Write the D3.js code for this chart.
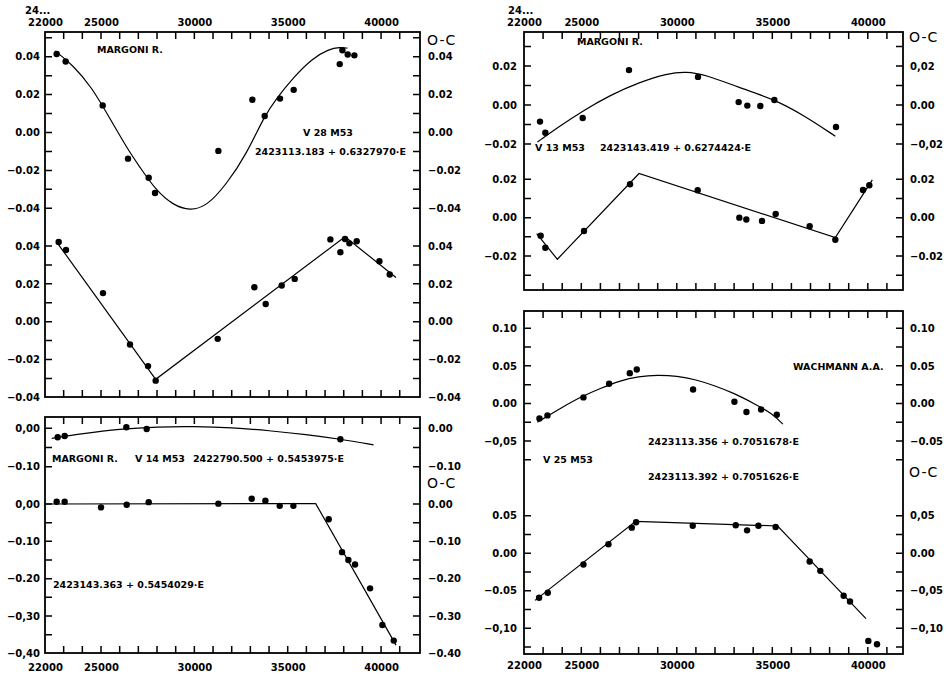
<!DOCTYPE html>
<html>
<head>
<meta charset="utf-8">
<script src="https://cdn.jsdelivr.net/npm/d3@7"></script>
<style>
  body { margin: 0; background: #fff; }
  text { font-family: "DejaVu Sans", sans-serif; }
</style>
</head>
<body>
<div id="chart"></div>
<script>
// JD - 2400000 on the x axis, O-C in days on the y axes
var xTickLabels = [22000, 25000, 30000, 35000, 40000];

// V 28 M53
var v28Upper = [[22625,0.0414],[23107,0.0375],[25089,0.0143],[26446,-0.0138],[27554,-0.0239],[27893,-0.0319],
  [31286,-0.0097],[33107,0.0173],[33768,0.0087],[34589,0.0179],[35321,0.0225],[37786,0.0361],[37929,0.0434],
  [38214,0.0412],[38571,0.0407]];
var v28UpperFit = [[22550,0.0430],[23500,0.0355],[24500,0.0240],[25500,0.0070],[26500,-0.0100],[27100,-0.0185],
  [27900,-0.0300],[28870,-0.0385],[29770,-0.0412],[30660,-0.0390],[31730,-0.0272],[32800,-0.0113],[33750,0.0087],
  [34400,0.0180],[35300,0.0290],[36300,0.0390],[37200,0.0440],[37800,0.0450],[38200,0.0445]];
var v28Lower = [[22732,0.0421],[23125,0.0379],[25107,0.0151],[26554,-0.0121],[27518,-0.0235],[27929,-0.0312],
  [31250,-0.0091],[33214,0.0182],[33821,0.0093],[34679,0.0191],[35375,0.0226],[37286,0.0435],[37821,0.0367],
  [38071,0.0437],[38304,0.0414],[38696,0.0425],[39911,0.0319],[40464,0.0249]];
var v28LowerFit = [[22625,0.0421],[27929,-0.0305],[38071,0.0449],[40800,0.0233]];

// V 14 M53
var v14Upper = [[22679,-0.0235],[23054,-0.0200],[26357,0.0026],[27446,-0.0017],[37821,-0.0287]];
var v14UpperFit = [[22360,-0.026],[24000,-0.014],[26000,-0.002],[28000,0.004],[30000,0.005],[32000,0.002],
  [34000,-0.006],[36000,-0.016],[37800,-0.028],[39600,-0.043]];
var v14Lower = [[22625,0.006],[23054,0.006],[25000,-0.009],[26375,-0.002],[27554,0.005],[31286,0.001],
  [33071,0.014],[33804,0.009],[34571,-0.005],[35304,-0.005],[37196,-0.041],[37911,-0.129],[38250,-0.150],
  [38607,-0.162],[39411,-0.226],[40071,-0.324],[40679,-0.366]];
var v14LowerFit = [[22000,0.000],[36500,0.001],[40800,-0.378]];

// V 13 M53
var v13Upper = [[22838,-0.0085],[23117,-0.0142],[25072,-0.0067],[27497,0.0179],[31110,0.0144],[33239,0.0015],
  [33693,-0.0003],[34374,-0.0005],[35107,0.0026],[38335,-0.0113]];
var v13UpperFit = [[22700,-0.0190],[24000,-0.0100],[25000,-0.0035],[26500,0.0050],[28000,0.0115],[29500,0.0162],
  [30500,0.0172],[31500,0.0155],[33200,0.0092],[35100,0.0029],[36600,-0.0050],[38300,-0.0160]];
var v13Lower = [[22873,-0.0094],[23117,-0.0157],[25141,-0.0070],[27550,0.0174],[31093,0.0143],[33274,0.0000],
  [33640,-0.0010],[34461,-0.0017],[35176,0.0019],[36956,-0.0045],[38300,-0.0115],[39750,0.0144],[40080,0.0169]];
var v13LowerFit = [[22663,-0.0083],[23745,-0.0217],[28021,0.0230],[38300,-0.0104],[40237,0.0197]];

// V 25 M53
var v25Upper = [[22808,-0.0199],[23227,-0.0159],[25112,0.0080],[26456,0.0261],[27538,0.0403],[27904,0.0451],
  [30853,0.0186],[33017,0.0022],[33646,-0.0115],[34414,-0.0080],[35234,-0.0150]];
var v25UpperFit = [[22700,-0.0250],[24000,-0.0050],[25000,0.0090],[26000,0.0200],[27000,0.0300],[28000,0.0360],
  [29000,0.0378],[30000,0.0365],[31000,0.0318],[32000,0.0235],[33000,0.0135],[34000,0.0005],[35000,-0.0135],
  [35550,-0.0275]];
var v25Lower = [[22791,-0.0593],[23245,-0.0527],[25112,-0.0150],[26421,0.0119],[27642,0.0341],[27869,0.0412],
  [30834,0.0367],[33086,0.0372],[33679,0.0305],[34272,0.0367],[35176,0.0350],[36956,-0.0111],[37515,-0.0235],
  [38736,-0.0566],[39068,-0.0642],[40028,-0.1168],[40482,-0.1212]];
var v25LowerFit = [[22576,-0.0628],[27846,0.0425],[35281,0.0363],[39906,-0.0872]];

// tick labels (as printed, with their mixed decimal marks)
var l1Ticks = [0.04, 0.02, 0, -0.02, -0.04];
var l1Left = ["0.04","0.02","0.00","−0.02","−0.04"];
var l1Right = ["0.04","0.02","0.00","−0.02","−0.04"];
var l3Ticks = [0, -0.1];
var l3Left = ["0,00","−0.10"];
var l3Right = ["0.00","−0.10"];
var l4Ticks = [0, -0.1, -0.2, -0.3, -0.4];
var l4Left = ["0,00","−0.10","−0.20","−0,30","−0,40"];
var l4Right = ["0.00","−0.10","−0.20","−0.30","−0.40"];
var r1Ticks = [0.02, 0, -0.02];
var r1Left = ["0.02","0.00","−0.02"];
var r1Right = ["0,02","0.00","−0,02"];
var r2Right = ["0.02","0.00","−0.02"];
var r3Ticks = [0.10, 0.05, 0, -0.05];
var r3Left = ["0.10","0.05","0.00","−0,05"];
var r3Right = ["0.10","0.05","0.00","−0.05"];
var r4Ticks = [0.05, 0, -0.05, -0.10];
var r4Left = ["0.05","0.00","−0.05","−0,10"];
var r4Right = ["0,05","0.00","−0,05","−0,10"];

var width = 947, height = 675;
var svg = d3.select("#chart").append("svg")
    .attr("width", width)
    .attr("height", height);

var xLeft = d3.scaleLinear().domain([22000, 42000]).range([45, 418.4]);
var xRight = d3.scaleLinear().domain([22000, 42000]).range([524, 906]);

var frames = [
  {x: xLeft, left: 45, right: 420, top: 32, bottom: 397, labels: "top", pad: 6.5},
  {x: xLeft, left: 45, right: 420, top: 417, bottom: 653, labels: "bottom", pad: 10.5},
  {x: xRight, left: 524, right: 903, top: 32, bottom: 290, labels: "top", pad: 6.5},
  {x: xRight, left: 524, right: 903, top: 311, bottom: 654, labels: "bottom", pad: 7.5}
];

var minorX = d3.range(23000, 42000, 1000);
var tickLen = 7;
var tickMarks = [];   // collected as [x1, y1, x2, y2], drawn once at the end

frames.forEach(function(f) {
  svg.append("rect")
      .attr("x", f.left).attr("y", f.top)
      .attr("width", f.right - f.left).attr("height", f.bottom - f.top)
      .attr("fill", "none").attr("stroke", "#000").attr("stroke-width", 1.8);

  // inward ticks every 1000 days on top and bottom edge
  minorX.filter(function(d) { return f.x(d) < f.right - 2; }).forEach(function(d) {
    var px = f.x(d);
    tickMarks.push([px, f.top, px, f.top + tickLen]);
    tickMarks.push([px, f.bottom, px, f.bottom - tickLen]);
  });

  var axisFn = f.labels == "top" ? d3.axisTop : d3.axisBottom;
  var lab = svg.append("g")
      .attr("transform", `translate(0,${f.labels == "top" ? f.top : f.bottom})`)
      .call(axisFn(f.x).tickValues(xTickLabels).tickSize(0).tickPadding(f.pad).tickFormat(d3.format("d")));
  lab.select(".domain").remove();
  lab.selectAll("text")
      .attr("font-family", "DejaVu Sans").attr("font-size", 10).attr("font-weight", "bold").attr("fill", "#000");
});

// one entry per sub plot: y mapping
var plots = [
  {x: xLeft, f: frames[0], dom: [0.04, -0.04], rng: [56.7, 208.3], minor: d3.range(-4, 6).map(function(d){return d/100;}),
   ticks: l1Ticks, lLab: l1Left, rLab: l1Right, lPad: 5, rPad: 8, pts: v28Upper, fit: v28UpperFit, curve: d3.curveBasis},
  {x: xLeft, f: frames[0], dom: [0.04, -0.04], rng: [246, 397.3], minor: d3.range(-3, 5).map(function(d){return d/100;}),
   ticks: l1Ticks, lLab: l1Left, rLab: l1Right, lPad: 5, rPad: 8, pts: v28Lower, fit: v28LowerFit, curve: d3.curveLinear},
  {x: xLeft, f: frames[1], dom: [0, -0.1], rng: [428.3, 466.7], minor: [0, -0.05, -0.1],
   ticks: l3Ticks, lLab: l3Left, rLab: l3Right, lPad: 5, rPad: 8, pts: v14Upper, fit: v14UpperFit, curve: d3.curveBasis},
  {x: xLeft, f: frames[1], dom: [0, -0.4], rng: [504, 653.3], minor: d3.range(-7, 1).map(function(d){return d*0.05;}),
   ticks: l4Ticks, lLab: l4Left, rLab: l4Right, lPad: 5, rPad: 8, pts: v14Lower, fit: v14LowerFit, curve: d3.curveLinear},
  {x: xRight, f: frames[2], dom: [0.02, -0.02], rng: [66, 144], minor: d3.range(-2, 4).map(function(d){return d/100;}),
   ticks: r1Ticks, lLab: r1Left, rLab: r1Right, lPad: 7, rPad: 7, pts: v13Upper, fit: v13UpperFit, curve: d3.curveBasis},
  {x: xRight, f: frames[2], dom: [0.02, -0.02], rng: [179.3, 256], minor: d3.range(-3, 3).map(function(d){return d/100;}),
   ticks: r1Ticks, lLab: r1Left, rLab: r2Right, lPad: 7, rPad: 7, pts: v13Lower, fit: v13LowerFit, curve: d3.curveLinear},
  {x: xRight, f: frames[3], dom: [0.10, -0.05], rng: [328.3, 441], minor: d3.range(-3, 5).map(function(d){return d*0.025;}),
   ticks: r3Ticks, lLab: r3Left, rLab: r3Right, lPad: 7, rPad: 7, pts: v25Upper, fit: v25UpperFit, curve: d3.curveBasis},
  {x: xRight, f: frames[3], dom: [0.05, -0.10], rng: [515.7, 628.3], minor: d3.range(-5, 3).map(function(d){return d*0.025;}),
   ticks: r4Ticks, lLab: r4Left, rLab: r4Right, lPad: 7, rPad: 7, pts: v25Lower, fit: v25LowerFit, curve: d3.curveLinear}
];

plots.forEach(function(p) {
  var y = d3.scaleLinear().domain(p.dom).range(p.rng);

  // inward tick marks on both sides
  p.minor.forEach(function(d) {
    var py = y(d);
    if (py <= p.f.top + 2 || py >= p.f.bottom - 2) return;
    tickMarks.push([p.f.left, py, p.f.left + tickLen, py]);
    tickMarks.push([p.f.right, py, p.f.right - tickLen, py]);
  });

  // printed labels
  var ll = svg.append("g").attr("transform", `translate(${p.f.left},0)`)
      .call(d3.axisLeft(y).tickValues(p.ticks).tickSize(0).tickPadding(p.lPad)
        .tickFormat(function(d, i) { return p.lLab[i]; }));
  var rl = svg.append("g").attr("transform", `translate(${p.f.right},0)`)
      .call(d3.axisRight(y).tickValues(p.ticks).tickSize(0).tickPadding(p.rPad)
        .tickFormat(function(d, i) { return p.rLab[i]; }));
  [ll, rl].forEach(function(g) {
    g.select(".domain").remove();
    g.selectAll("text")
        .attr("font-family", "DejaVu Sans").attr("font-size", 10).attr("font-weight", "bold").attr("fill", "#000");
  });

  var line = d3.line()
      .x(function(d) { return p.x(d[0]); })
      .y(function(d) { return y(d[1]); })
      .curve(p.curve);

  svg.append("path")
      .datum(p.fit)
      .attr("d", line)
      .attr("fill", "none")
      .attr("stroke", "#000")
      .attr("stroke-width", 1.2);

  svg.append("g").selectAll("circle")
      .data(p.pts)
    .enter().append("circle")
      .attr("cx", function(d) { return p.x(d[0]); })
      .attr("cy", function(d) { return y(d[1]); })
      .attr("r", 3.2)
      .attr("fill", "#000");
});

// all frame ticks as one path
svg.append("path")
    .attr("d", tickMarks.map(function(t) { return `M${t[0]},${t[1]}L${t[2]},${t[3]}`; }).join(""))
    .attr("fill", "none")
    .attr("stroke", "#000")
    .attr("stroke-width", 1.5);

// annotations
var notes = [
  ["MARGONI R.", 97, 52.5], ["V 28 M53", 303, 135.5], ["2423113.183 + 0.6327970·E", 255, 154.5],
  ["MARGONI R.", 52, 462], ["V 14  M53", 135, 462], ["2422790.500 + 0.5453975·E", 193, 462],
  ["2423143.363 + 0.5454029·E", 53, 588],
  ["MARGONI R.", 577, 44.5], ["V 13 M53", 535, 151], ["2423143.419 + 0.6274424·E", 600, 151],
  ["WACHMANN A.A.", 793, 369.5], ["2423113.356 + 0.7051678·E", 648, 445], ["V 25 M53", 543, 463],
  ["2423113.392 + 0.7051626·E", 648, 480]
];
svg.append("g").selectAll("text")
    .data(notes)
  .enter().append("text")
    .attr("x", function(d) { return d[1]; })
    .attr("y", function(d) { return d[2]; })
    .attr("font-size", 9.5)
    .attr("font-weight", "bold")
    .text(function(d) { return d[0]; });

var ocLabels = [[427, 45], [427, 488], [909, 42], [909, 477]];
svg.append("g").selectAll("text")
    .data(ocLabels)
  .enter().append("text")
    .attr("x", function(d) { return d[0]; })
    .attr("y", function(d) { return d[1]; })
    .attr("font-size", 14)
    .attr("letter-spacing", 1)
    .text("O-C");

[[25, 14], [508, 14]].forEach(function(d) {
  svg.append("text")
      .attr("x", d[0]).attr("y", d[1])
      .attr("font-size", 10).attr("font-weight", "bold")
      .text("24...");
});
</script>
</body>
</html>
